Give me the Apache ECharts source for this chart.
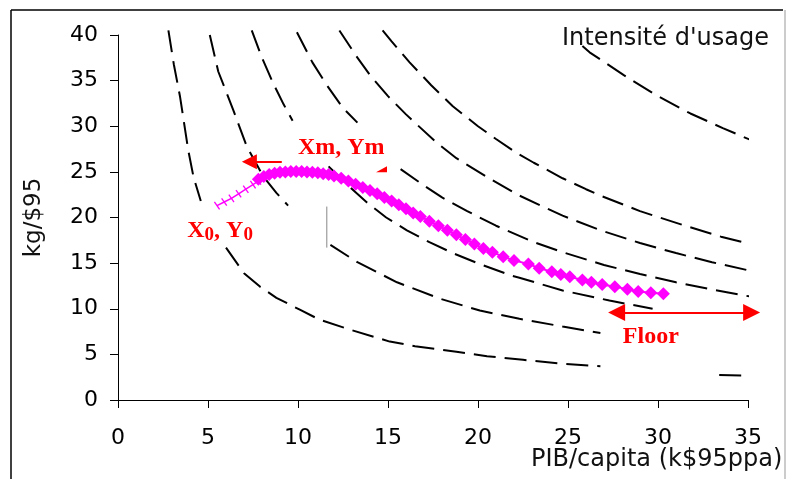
<!DOCTYPE html>
<html>
<head>
<meta charset="utf-8">
<script src="https://cdn.jsdelivr.net/npm/echarts@6/dist/echarts.min.js"></script>
<style>html,body{margin:0;padding:0;background:#fff}#c{width:787px;height:479px}</style>
</head>
<body>
<div id="c"></div>
<script>
// ---- tick labels ----
var xTicks = [0, 5, 10, 15, 20, 25, 30, 35];
var yTicks = [0, 5, 10, 15, 20, 25, 30, 35, 40];

// ---- dashed iso-consumption curves [x, y] ----
var c100a = [[2.8,40.5],[3.1,36.8],[3.45,33.2],[3.9,27.4],[4.2,24.4],[4.6,21.8]];
var c100b = [[6.0,16.7],[7.0,13.9],[7.9,12.4],[8.8,11.2],[10.1,9.9],[11.2,8.8],[12.9,7.7],[15.1,6.4],[16.5,5.9],[18.8,5.3],[20.5,4.8],[22.5,4.4],[24.5,4.0],[26.8,3.7]];
var c100c = [[33.4,2.75],[35.5,2.65]];
var c200a = [[5.1,40.0],[5.57,36.0],[6.4,31.8],[7.15,27.8],[8.07,24.5],[8.8,22.7],[9.45,21.3]];
var c200b = [[11.8,17.0],[13.3,15.1],[15.5,12.9],[17.9,11.1],[20.1,9.8],[22.3,8.9],[24.7,8.05],[26.8,7.35]];
var c300a = [[7.43,40.5],[8.0,37.5],[8.6,34.8],[9.2,32.4],[9.7,30.6]];
var c300b = [[11.7,25.6],[12.9,23.3],[13.8,21.7],[14.9,20.0],[16.05,18.6],[17.3,17.3],[18.6,16.1],[20.1,14.9],[21.9,13.6],[22.3,13.4],[24.7,12.0],[27.3,10.9],[29.7,10.0]];
var c400a = [[9.94,40.3],[10.8,37.0],[11.6,34.5],[12.5,32.0],[13.3,30.4]];
var c400b = [[15.7,25.3],[17.0,23.5],[18.0,22.2],[19.4,20.7],[21.0,19.1],[23.1,17.3],[24.7,16.2],[27.0,14.8],[29.0,13.8],[31.0,12.9],[33.0,12.1],[35.5,11.2]];
var c500 = [[12.3,40.5],[13.2,37.8],[14.0,35.6],[15.0,33.3],[16.0,31.3],[16.6,30.2],[17.7,28.2],[18.8,26.5],[20.7,24.2],[22.3,22.4],[24.7,20.2],[26.8,18.6],[29.0,17.2],[31.0,16.1],[33.0,15.1],[35.5,14.0]];
var c600 = [[14.7,40.5],[15.2,39.3],[16.2,37.0],[17.4,34.5],[18.6,32.2],[20.0,30.0],[21.0,28.6],[22.2,27.0],[23.1,26.0],[24.7,24.3],[26.0,23.1],[26.8,22.4],[29.0,20.7],[31.5,19.1],[33.5,17.9],[35.5,16.9]];
var c1000 = [[25.8,38.8],[26.2,38.1],[28.1,35.6],[29.9,33.4],[31.8,31.4],[33.6,29.8],[35.5,28.2]];
var greyMark = [[11.6,16.7],[11.6,21.2]];

// ---- trajectory (magenta) ----
var trajStart = [[5.5,21.3],[5.9,21.7],[6.3,22.1],[6.7,22.6],[7.1,23.1],[7.5,23.6],[7.8,24.0]];
var trajX = [7.8,8.1,8.4,8.7,9.0,9.3,9.6,9.9,10.2,10.5,10.8,11.1,11.4,11.7,12.0,12.4,12.8,13.2,13.6,14.0,14.4,14.8,15.2,15.6,16.0,16.4,16.8,17.3,17.8,18.3,18.8,19.3,19.8,20.3,20.8,21.4,22.0,22.8,23.4,24.1,24.6,25.1,25.8,26.3,26.9,27.6,28.3,28.9,29.6,30.3];
var trajY = [24.2,24.5,24.7,24.85,24.95,25.0,25.05,25.05,25.05,25.0,24.95,24.9,24.8,24.7,24.55,24.3,24.0,23.65,23.3,22.95,22.6,22.2,21.8,21.4,20.95,20.5,20.1,19.6,19.1,18.6,18.1,17.6,17.1,16.6,16.2,15.7,15.3,14.9,14.45,14.05,13.75,13.5,13.15,12.9,12.65,12.4,12.15,11.9,11.76,11.65];

// ---- annotations (data coordinates; arrow ends are arrowhead centres) ----
var xmArrow = [[9.1,26.1],[7.3,26.1]];
var floorArrow = [[27.7,9.6],[35.2,9.6]];
var xmLabelPos = [12.4,27.6];
var x0LabelPos = [5.67,18.5];
var floorLabelPos = [29.6,6.9];
var xmTipPos = [14.64,25.3];

var SANS = 'DejaVu Sans';
var SERIF = 'Liberation Serif';

function dashed(data, w) {
  return {
    type: 'line', data: data, symbol: 'none', clip: false, silent: true,
    lineStyle: { color: '#000', width: w || 2, type: [22, 9] }, z: 2
  };
}

var traj = trajX.map(function (x, i) { return [x, trajY[i]]; });

var chart = echarts.init(document.getElementById('c'), null, { renderer: 'canvas' });
chart.setOption({
  animation: false,
  backgroundColor: '#fff',
  title: [
    { text: "Intensité d'usage", left: 557, top: 22,
      textStyle: { fontFamily: SANS, fontSize: 24, fontWeight: 'normal', color: '#111' } },
    { text: 'PIB/capita (k$95ppa)', left: 526, top: 443,
      textStyle: { fontFamily: SANS, fontSize: 24, fontWeight: 'normal', color: '#111' } }
  ],
  grid: { left: 118, right: 39, top: 35, bottom: 79 },
  xAxis: {
    type: 'value', min: 0, max: 35, interval: 5,
    axisLine: { show: true, onZero: false, lineStyle: { color: '#000', width: 1 } },
    axisTick: { show: true, length: 8, lineStyle: { color: '#000' } },
    splitLine: { show: false },
    axisLabel: { margin: 27, fontFamily: SANS, fontSize: 22, color: '#000',
      formatter: function (v) { return xTicks.indexOf(v) >= 0 ? String(v) : ''; } }
  },
  yAxis: {
    type: 'value', min: 0, max: 40, interval: 5,
    name: 'kg/$95', nameLocation: 'middle', nameGap: 72, nameRotate: 90,
    nameTextStyle: { fontFamily: SANS, fontSize: 23, color: '#111' },
    axisLine: { show: true, onZero: false, lineStyle: { color: '#000', width: 1 } },
    axisTick: { show: true, length: 8, lineStyle: { color: '#000' } },
    splitLine: { show: false },
    axisLabel: { margin: 20, fontFamily: SANS, fontSize: 22, color: '#000',
      formatter: function (v) { return yTicks.indexOf(v) >= 0 ? String(v) : ''; } }
  },
  graphic: [
    { type: 'line', shape: { x1: 11, y1: 10, x2: 783, y2: 10 }, style: { stroke: '#000', lineWidth: 1.5 }, silent: true },
    { type: 'line', shape: { x1: 11, y1: 10, x2: 11, y2: 479 }, style: { stroke: '#000', lineWidth: 1.5 }, silent: true },
    { type: 'line', shape: { x1: 785, y1: 10, x2: 785, y2: 479 }, style: { stroke: '#999', lineWidth: 1 }, silent: true }
  ],
  series: [
    dashed(c100a), dashed(c100b), dashed(c100c),
    dashed(c200a), dashed(c200b),
    dashed(c300a), dashed(c300b),
    dashed(c400a), dashed(c400b),
    dashed(c500), dashed(c600), dashed(c1000),
    { type: 'line', data: greyMark, symbol: 'none', silent: true,
      lineStyle: { color: '#888', width: 1 }, z: 2 },
    { type: 'line', data: trajStart, symbol: 'rect', symbolSize: [1.3, 9], symbolRotate: 35,
      itemStyle: { color: '#ff00ff' }, lineStyle: { color: '#ff00ff', width: 1.5 }, silent: true, z: 4 },
    { type: 'line', data: traj, symbol: 'diamond', symbolSize: 13,
      itemStyle: { color: '#ff00ff' }, lineStyle: { color: '#ff00ff', width: 2 }, silent: true, z: 5,
      markPoint: {
        silent: true, animation: false,
        data: [
          { coord: xmTipPos, symbol: 'path://M0,6 L11,0 L11,6 Z', symbolSize: [11, 6], itemStyle: { color: '#ff0000' }, label: { show: false } },
          { coord: xmLabelPos, symbol: 'rect', symbolSize: 1, itemStyle: { color: 'rgba(0,0,0,0)' },
            label: { show: true, position: 'inside', formatter: 'Xm, Ym',
              fontFamily: SERIF, fontWeight: 'bold', fontSize: 24, color: '#ff0000' } },
          { coord: x0LabelPos, symbol: 'rect', symbolSize: 1, itemStyle: { color: 'rgba(0,0,0,0)' },
            label: { show: true, position: 'inside', formatter: '{b|X}{s|0}{b|, Y}{s|0}',
              rich: {
                b: { fontFamily: SERIF, fontWeight: 'bold', fontSize: 24, color: '#ff0000', lineHeight: 26 },
                s: { fontFamily: SERIF, fontWeight: 'bold', fontSize: 19, color: '#ff0000', lineHeight: 20, verticalAlign: 'bottom' }
              } } },
          { coord: floorLabelPos, symbol: 'rect', symbolSize: 1, itemStyle: { color: 'rgba(0,0,0,0)' },
            label: { show: true, position: 'inside', formatter: 'Floor',
              fontFamily: SERIF, fontWeight: 'bold', fontSize: 24, color: '#ff0000' } }
        ]
      }
    },
    { type: 'lines', coordinateSystem: 'cartesian2d', clip: false, silent: true, z: 6,
      symbol: ['none', 'triangle'], symbolSize: [13, 15],
      lineStyle: { color: '#ff0000', width: 2, opacity: 1, curveness: 0 },
      data: [{ coords: xmArrow }] },
    { type: 'lines', coordinateSystem: 'cartesian2d', clip: false, silent: true, z: 6,
      symbol: ['triangle', 'triangle'], symbolSize: [17, 17],
      lineStyle: { color: '#ff0000', width: 2, opacity: 1, curveness: 0 },
      data: [{ coords: floorArrow }] }
  ]
});
</script>
</body>
</html>
